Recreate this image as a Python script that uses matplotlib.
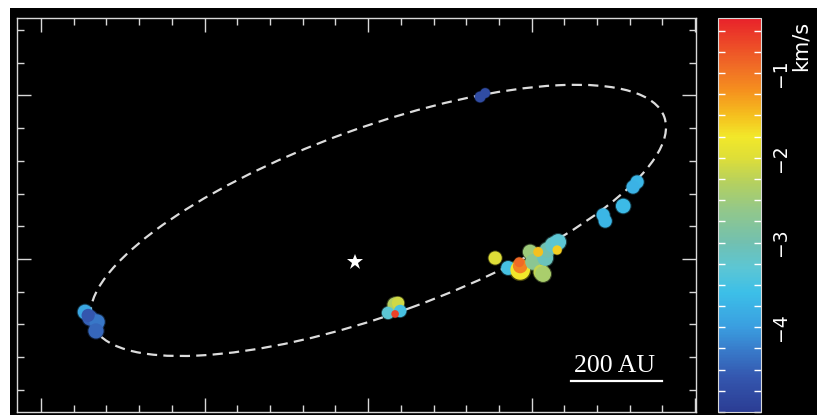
import numpy as np
import matplotlib
matplotlib.use("Agg")
import matplotlib.pyplot as plt
from matplotlib.colors import LinearSegmentedColormap, Normalize
from matplotlib.patches import Ellipse, Rectangle
from matplotlib.ticker import MultipleLocator

# ── Data (offsets in arcsec, velocities in km/s) ─────────────────────────────
blob_x = [-1.731, -1.700, -1.657, -1.664, -1.712,
          0.685, 0.716,
          1.645, 1.620, 1.560, 1.437, 1.450,
          0.165, 0.183, 0.122, 0.196, 0.165,
          0.777, 0.856, 0.930, 0.930, 0.924, 0.991, 1.009, 1.058, 1.070,
          1.083, 1.095, 1.131, 1.162, 1.040, 1.156]
blob_y = [-0.324, -0.361, -0.385, -0.440, -0.345,
          0.991, 1.015,
          0.471, 0.440, 0.324, 0.269, 0.232,
          -0.281, -0.269, -0.330, -0.318, -0.336,
          0.006, -0.055, -0.067, -0.043, -0.020, 0.043, -0.018, -0.080, -0.092,
          0.006, 0.055, 0.086, 0.104, 0.043, 0.055]
blob_vel = [-3.9, -4.5, -4.3, -4.45, -4.6,
            -4.75, -4.75,
            -3.7, -3.75, -3.65, -3.7, -3.7,
            -2.3, -2.1, -3.3, -3.5, -0.6,
            -2.0, -3.5, -1.75, -1.1, -0.9, -2.5, -2.7, -2.2, -2.4,
            -3.1, -3.0, -3.2, -3.3, -1.5, -1.6]
blob_size = [110, 120, 120, 120, 90,
             60, 50,
             90, 90, 110, 90, 90,
             120, 80, 80, 80, 30,
             90, 100, 200, 110, 50, 110, 130, 120, 130,
             130, 120, 130, 130, 50, 45]

star_xy = (-0.080, -0.018)

# orbit ellipse: centre, semi-axes, position angle (deg)
orbit_c = (0.062, 0.236)
orbit_a = 1.86
orbit_b = 0.57
orbit_pa = 19.9

AU_PER_ARCSEC = 359.0
scale_au = 200

cbar_ticks = [-1, -2, -3, -4]
vmin, vmax = -5.0, -0.35

# colour table
cmap_vals = [-5.0, -4.6, -4.3, -4.0, -3.6, -3.3, -3.0, -2.6, -2.3, -2.0,
             -1.75, -1.5, -1.2, -0.9, -0.35]
cmap_cols = ["#2b3d94", "#3456ae", "#3878c8", "#3a9ee0", "#3cbfe8", "#5cc6d4",
             "#72c0b0", "#94c888", "#b4d060", "#dede38", "#f2e82a", "#f5c01e",
             "#f5901e", "#f06a26", "#e8222a"]

# ── Figure ───────────────────────────────────────────────────────────────────
pos = [(v - vmin) / (vmax - vmin) for v in cmap_vals]
cmap = LinearSegmentedColormap.from_list("vel", list(zip(pos, cmap_cols)))
norm = Normalize(vmin=vmin, vmax=vmax)

fig = plt.figure(figsize=(8.17, 4.15), dpi=100, facecolor="white")
fig.patches.append(Rectangle((10 / 817, 0), 1, 407 / 415, transform=fig.transFigure,
                             facecolor="black", edgecolor="none", zorder=-10))

ax = fig.add_axes([17 / 817, 3 / 415, 679 / 817, 394 / 415])
ax.set_facecolor("black")
ax.set_xlim(-2.147, 2.005)
ax.set_ylim(-0.936, 1.474)

ax.add_patch(Ellipse(orbit_c, 2 * orbit_a, 2 * orbit_b, angle=orbit_pa,
                     fill=False, edgecolor="#dcdcdc", linewidth=1.6,
                     linestyle=(0, (4.6, 2.8)), zorder=1))

# soft halo, then the blobs themselves
ax.scatter(blob_x, blob_y, c=blob_vel, cmap=cmap, norm=norm,
           s=np.array(blob_size) * 1.3, alpha=0.3, linewidths=0, zorder=2)
ax.scatter(blob_x, blob_y, c=blob_vel, cmap=cmap, norm=norm,
           s=blob_size, linewidths=0, zorder=3)

ax.plot(*star_xy, marker="*", color="white", markersize=12,
        markeredgewidth=0, zorder=4)

# scale bar
bar_len = scale_au / AU_PER_ARCSEC
bar_x0 = 1.242
ax.plot([bar_x0, bar_x0 + bar_len], [-0.746, -0.746], color="white", linewidth=1.6)
ax.text(bar_x0 + bar_len / 2 - 0.015, -0.69, f"{scale_au} AU", color="white",
        family="Liberation Serif", fontsize=18.5, ha="center", va="baseline")

ax.xaxis.set_major_locator(MultipleLocator(1))
ax.xaxis.set_minor_locator(MultipleLocator(0.2))
ax.yaxis.set_major_locator(MultipleLocator(1))
ax.yaxis.set_minor_locator(MultipleLocator(0.2))
ax.tick_params(which="both", direction="in", colors="#d8d8d8",
               top=True, right=True, labelbottom=False, labelleft=False)
ax.tick_params(which="major", length=10, width=1)
ax.tick_params(which="minor", length=5, width=1)
for sp in ax.spines.values():
    sp.set_color("#d8d8d8")
    sp.set_linewidth(1)

# ── Colour bar ───────────────────────────────────────────────────────────────
cax = fig.add_axes([718 / 817, 3 / 415, 43 / 817, 394 / 415])
cb = fig.colorbar(plt.cm.ScalarMappable(norm=norm, cmap=cmap), cax=cax)
cb.outline.set_edgecolor("#d8d8d8")
cb.set_ticks(cbar_ticks)
cb.set_ticklabels(["\u2212" + str(abs(t)) for t in cbar_ticks])
cax.yaxis.set_minor_locator(MultipleLocator(0.25))
cax.tick_params(which="both", direction="in", colors="white", left=True,
                right=True, length=5, width=1, labelsize=13.5, pad=7)
for lab in cax.get_yticklabels():
    lab.set_rotation(90)
    lab.set_va("center")
fig.text(801 / 817, (415 - 46) / 415, "km/s", color="white", fontsize=15,
         rotation=90, ha="center", va="center")

fig.savefig("out.png", dpi=100, facecolor="white")
